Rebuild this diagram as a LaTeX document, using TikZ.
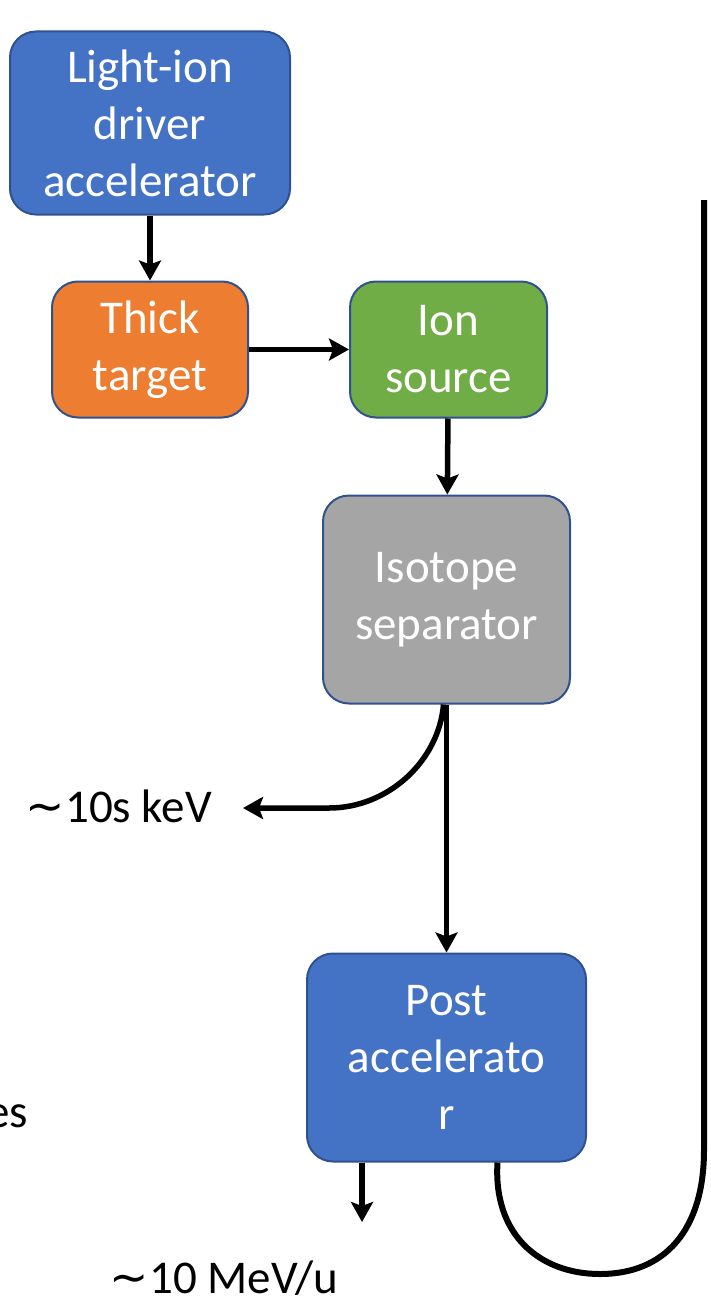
\documentclass[tikz,border=0pt]{standalone}
\usepackage{fontspec}
\setmainfont{Carlito}
\newfontfamily\symfont{DejaVu Sans}
\usetikzlibrary{positioning, arrows.meta}

\begin{document}
\begin{tikzpicture}[
        x=1pt, y=-1pt,
        box/.style={draw=boxline, line width=2pt, rectangle, rounded corners=26pt, align=center, inner sep=0pt, text=white, font=\fontsize{47}{57}\selectfont},
        label/.style={align=center, inner sep=0pt, font=\fontsize{47}{57}\selectfont},
        arrow/.style={-{Stealth[length=20pt, width=22pt, inset=4pt]}, line width=5.5pt},
        loop/.style={line width=6pt}
    ]
    \definecolor{boxline}{HTML}{2F528F}
    \definecolor{accblue}{HTML}{4472C4}
    \definecolor{tgtorange}{HTML}{ED7D31}
    \definecolor{srcgreen}{HTML}{70AD47}
    \definecolor{sepgray}{HTML}{A5A5A5}
    \useasboundingbox (0,0) rectangle (710,1303);

    \node[box, fill=accblue, minimum width=280pt, minimum height=183pt] (driver) at (150,123) {Light-ion\\driver\\accelerator};
    \node[box, fill=tgtorange, minimum width=196pt, minimum height=136pt, below=65pt of driver] (target) {Thick\\target};
    \node[box, fill=srcgreen, minimum width=197pt, minimum height=136pt, right=100pt of target] (source) {Ion\\source};
    \node[box, fill=sepgray, minimum width=247pt, minimum height=208pt, below=76pt of source, xshift=-2pt] (separator) {Isotope\\separator};
    \node[box, fill=accblue, minimum width=279pt, minimum height=208pt, below=248pt of separator] (post) {Post\\accelerato\\r};

    \coordinate (kevend) at (243,808);
    \coordinate (mevend) at (362,1222);
    \coordinate (looptop) at (704,200);
    \node[label, anchor=east] (kev) at (212,806) {{\symfont ∼}10s keV};
    \node[label] (mev) at (224,1278) {{\symfont ∼}10 MeV/u};
    \node[label, anchor=east] (es) at (28,1116) {es};

    \draw[arrow] (driver) -- (target);
    \draw[arrow] (target) -- (source);
    \draw[arrow] (source) -- (separator);
    \draw[arrow] (separator) -- (post);
    \draw[arrow] ([xshift=-3pt]separator.south) .. controls (439,760) and (389,808) .. (329,808) -- (kevend);
    \draw[arrow] (post.south -| mevend) -- (mevend);
    \draw[loop] ([xshift=51pt]post.south) .. controls (493,1235) and (540,1274) .. (600,1274)
        .. controls (665,1274) and (704,1230) .. (704,1150) -- (looptop);
\end{tikzpicture}
\end{document}
